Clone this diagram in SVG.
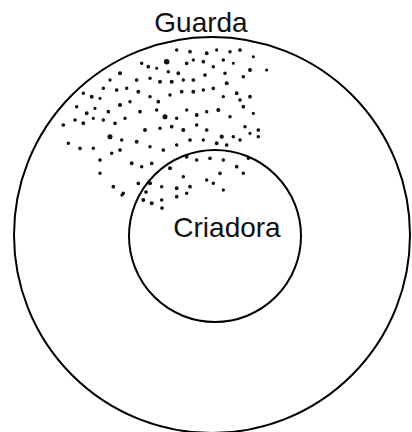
<svg xmlns="http://www.w3.org/2000/svg" width="412" height="432" viewBox="0 0 412 432">
<style>
.ring{fill:none;stroke:#000;stroke-width:2}
.lbl{font-family:"Liberation Sans",Arial,sans-serif;font-size:28px;fill:#111;text-anchor:middle}
.dots circle{fill:#111;stroke:#111;stroke-width:1.1}
</style>
<rect width="412" height="432" fill="#fff"/>
<g id="guarda">
<circle class="ring" cx="212" cy="235" r="198"/>
<text class="lbl" x="201" y="32">Guarda</text>
</g>
<g id="speckle" class="dots">
<circle cx="166.7" cy="61.7" r="2.2"/><circle cx="176.7" cy="50" r="1.2"/><circle cx="190" cy="51.7" r="1.3"/><circle cx="206.7" cy="53.3" r="1.4"/><circle cx="216.7" cy="50" r="1.1"/><circle cx="230" cy="51.7" r="1.2"/><circle cx="240" cy="50" r="1.3"/><circle cx="253.3" cy="56.7" r="1"/><circle cx="266.7" cy="70" r="1"/>
<circle cx="141.7" cy="63.3" r="1.2"/><circle cx="148.3" cy="66.7" r="1.3"/><circle cx="156.7" cy="68.3" r="1"/><circle cx="168.3" cy="71.7" r="1.2"/><circle cx="178.3" cy="73.3" r="1.4"/><circle cx="186.7" cy="63.3" r="1.3"/><circle cx="193.3" cy="60" r="1.1"/><circle cx="203.3" cy="61.7" r="1.3"/><circle cx="213.3" cy="66.7" r="1.2"/><circle cx="223.3" cy="60" r="1.2"/><circle cx="233.3" cy="63.3" r="1"/><circle cx="250" cy="70" r="1.4"/>
<circle cx="120" cy="73.3" r="1.5"/><circle cx="136.7" cy="80" r="1.3"/><circle cx="150" cy="78.3" r="1.2"/><circle cx="160" cy="81.7" r="1.4"/><circle cx="171.7" cy="81.7" r="1.5"/><circle cx="183.3" cy="80" r="1.2"/><circle cx="193.3" cy="80" r="1.3"/><circle cx="205" cy="75" r="1.3"/><circle cx="225" cy="73.3" r="1.2"/><circle cx="226.7" cy="83.3" r="1.5"/><circle cx="243.3" cy="76.7" r="1.2"/>
<circle cx="110" cy="80" r="1.1"/><circle cx="103.3" cy="88.3" r="1.2"/><circle cx="83.3" cy="93.3" r="1.2"/><circle cx="91.7" cy="96.7" r="1.4"/><circle cx="100" cy="98.3" r="1.1"/><circle cx="116.7" cy="90" r="1.3"/><circle cx="126.7" cy="88.3" r="1.2"/><circle cx="138.3" cy="91.7" r="1.4"/><circle cx="150" cy="96.7" r="1.2"/><circle cx="158.3" cy="101.7" r="1.3"/><circle cx="170" cy="95" r="1.2"/><circle cx="181.7" cy="91.7" r="1.3"/><circle cx="193.3" cy="91.7" r="1.4"/><circle cx="203.3" cy="90" r="1.2"/><circle cx="213.3" cy="88.3" r="1.3"/><circle cx="223.3" cy="96.7" r="1.1"/><circle cx="236.7" cy="93.3" r="1.4"/><circle cx="250" cy="96.7" r="1.3"/><circle cx="240" cy="100" r="1.2"/><circle cx="253.3" cy="113.3" r="1.1"/>
<circle cx="76.7" cy="106.7" r="1.2"/><circle cx="86.7" cy="113.3" r="1.4"/><circle cx="95" cy="108.3" r="1.1"/><circle cx="108.3" cy="111.7" r="1.3"/><circle cx="120" cy="105" r="1.5"/><circle cx="130" cy="101.7" r="1.2"/><circle cx="140" cy="111.7" r="1.3"/><circle cx="156.7" cy="110" r="1.2"/><circle cx="165" cy="116.7" r="2"/><circle cx="176.7" cy="118.3" r="1.2"/><circle cx="186.7" cy="110" r="1.1"/><circle cx="196.7" cy="115" r="1.4"/><circle cx="206.7" cy="111.7" r="1.2"/><circle cx="218.3" cy="110" r="1.5"/><circle cx="230" cy="116.7" r="1.2"/><circle cx="243.3" cy="106.7" r="1.3"/>
<circle cx="63.3" cy="125" r="1.3"/><circle cx="75" cy="120" r="1.2"/><circle cx="83.3" cy="123.3" r="1.4"/><circle cx="93.3" cy="118.3" r="1.1"/><circle cx="103.3" cy="120" r="1.2"/><circle cx="115" cy="123.3" r="1.3"/><circle cx="125" cy="118.3" r="1.2"/><circle cx="145" cy="130" r="1.4"/><circle cx="160" cy="128.3" r="1.2"/><circle cx="171.7" cy="126.7" r="1.3"/><circle cx="183.3" cy="130" r="1.5"/><circle cx="196.7" cy="125" r="1.2"/><circle cx="206.7" cy="130" r="1.3"/><circle cx="221.7" cy="136.7" r="1.6"/><circle cx="233.3" cy="136.7" r="1.2"/><circle cx="245" cy="126.7" r="1.2"/><circle cx="258.3" cy="130" r="1.3"/><circle cx="258.3" cy="136.7" r="1.2"/>
<circle cx="68.3" cy="143.3" r="1.2"/><circle cx="80" cy="148.3" r="1.3"/><circle cx="93.3" cy="148.3" r="1.2"/><circle cx="110" cy="136.7" r="2"/><circle cx="121.7" cy="140" r="1.2"/><circle cx="136.7" cy="141.7" r="1.4"/><circle cx="150" cy="146.7" r="1.2"/><circle cx="163.3" cy="150" r="1.3"/><circle cx="176.7" cy="145" r="1.2"/><circle cx="190" cy="140" r="1.3"/><circle cx="203.3" cy="140" r="1.1"/><circle cx="216.7" cy="143.3" r="1.4"/><circle cx="226.7" cy="145" r="1.3"/><circle cx="240" cy="140" r="1.2"/><circle cx="250" cy="133.3" r="1.1"/>
<circle cx="100" cy="160" r="1.3"/><circle cx="111.7" cy="153.3" r="1.2"/><circle cx="120" cy="150" r="1.3"/><circle cx="131.7" cy="163.3" r="1.4"/><circle cx="141.7" cy="166.7" r="1.2"/><circle cx="151.7" cy="163.3" r="1.3"/><circle cx="170" cy="168.3" r="1.5"/><circle cx="186.7" cy="156.7" r="1.4"/><circle cx="196.7" cy="160" r="1.2"/><circle cx="210" cy="158.3" r="1.3"/><circle cx="223.3" cy="160" r="1.2"/><circle cx="236.7" cy="166.7" r="1.3"/><circle cx="248.3" cy="158.3" r="1.2"/>
<circle cx="100" cy="173.3" r="1.2"/><circle cx="113.3" cy="186.7" r="1.3"/><circle cx="123.3" cy="193.3" r="1.2"/><circle cx="138.3" cy="183.3" r="1.3"/><circle cx="150" cy="183.3" r="1.5"/><circle cx="161.7" cy="186.7" r="1.2"/><circle cx="176.7" cy="188.3" r="1.4"/><circle cx="183.3" cy="176.7" r="1.2"/><circle cx="190" cy="186.7" r="1.3"/><circle cx="206.7" cy="180" r="1.2"/><circle cx="220" cy="173.3" r="1.3"/><circle cx="243.3" cy="173.3" r="1.2"/>
<circle cx="143.3" cy="200" r="1.4"/><circle cx="151.7" cy="203.3" r="1.5"/><circle cx="161.7" cy="200" r="1.2"/><circle cx="176.7" cy="196.7" r="1.3"/><circle cx="186.7" cy="193.3" r="1.2"/><circle cx="213.3" cy="183.3" r="1.2"/><circle cx="223.3" cy="190" r="1.1"/><circle cx="162" cy="208" r="1.3"/><circle cx="122" cy="195" r="1.1"/><circle cx="146" cy="192" r="1.3"/>
</g>
<g id="criadora">
<circle class="ring" cx="215" cy="236" r="86"/>
<text class="lbl" x="227" y="237">Criadora</text>
</g>
</svg>
